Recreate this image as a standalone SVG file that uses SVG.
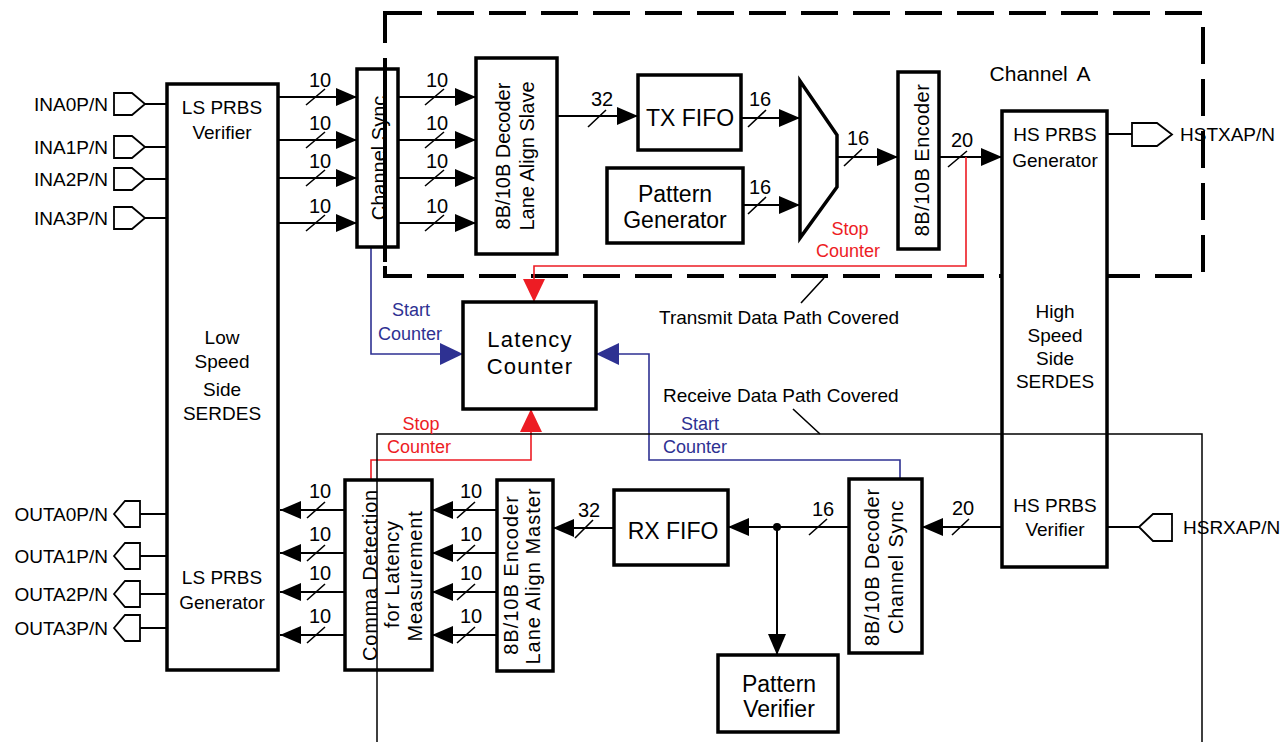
<svg xmlns="http://www.w3.org/2000/svg" width="1286" height="742" viewBox="0 0 1286 742">
<defs>
<style>
.b{fill:#fff;stroke:#000;stroke-width:3.5}
.w{fill:none;stroke:#000;stroke-width:2}
.s{fill:none;stroke:#000;stroke-width:1.6}
.r{fill:none;stroke:#ed1c24;stroke-width:1.6}
.u{fill:none;stroke:#2e3192;stroke-width:1.6}
.p{fill:#fff;stroke:#000;stroke-width:1.8}
.dash{fill:none;stroke:#000;stroke-width:4;stroke-dasharray:37 15}
.thin{fill:none;stroke:#000;stroke-width:1.5}
text{font-family:"Liberation Sans",Arial,sans-serif;fill:#000}
.f18{font-size:18px}
.f19{font-size:19px}
.f20{font-size:20px}
.f21{font-size:21px}
.f22{font-size:22px}
.f23{font-size:23px}
.m{text-anchor:middle}
.e{text-anchor:end}
.red{fill:#ed1c24}
.blu{fill:#2e3192}
</style>
<marker id="ak" markerUnits="userSpaceOnUse" markerWidth="22" markerHeight="20" refX="21" refY="10" orient="auto"><path d="M0,1 L21,10 L0,19 z" fill="#000"/></marker>
<marker id="ar" markerUnits="userSpaceOnUse" markerWidth="24" markerHeight="24" refX="23" refY="12" orient="auto"><path d="M0,1 L23,12 L0,23 z" fill="#ed1c24"/></marker>
<marker id="ab" markerUnits="userSpaceOnUse" markerWidth="24" markerHeight="24" refX="23" refY="12" orient="auto"><path d="M0,1 L23,12 L0,23 z" fill="#2e3192"/></marker>
<path id="pin" class="p" d="M0,-11 H18 L31,0 L18,11 H0 Z"/>
<path id="pout" class="p" d="M0,0 L11,-13 H26 V13 H11 Z"/>
</defs>

<g id="regions">
<rect class="dash" x="385" y="13" width="818" height="263"/>
</g>

<g id="connectors">
<path class="w" marker-end="url(#ak)" d="M278,97 H357"/>
<path class="w" marker-end="url(#ak)" d="M278,140 H357"/>
<path class="w" marker-end="url(#ak)" d="M278,178 H357"/>
<path class="w" marker-end="url(#ak)" d="M278,223 H357"/>
<path class="w" marker-end="url(#ak)" d="M398,97 H476"/>
<path class="w" marker-end="url(#ak)" d="M398,140 H476"/>
<path class="w" marker-end="url(#ak)" d="M398,178 H476"/>
<path class="w" marker-end="url(#ak)" d="M398,223 H476"/>
<path class="w" marker-end="url(#ak)" d="M557,116 H638"/>
<path class="w" marker-end="url(#ak)" d="M741,118 H800"/>
<path class="w" marker-end="url(#ak)" d="M743,205 H800"/>
<path class="w" marker-end="url(#ak)" d="M837,157 H898"/>
<path class="w" marker-end="url(#ak)" d="M939,157 H1002"/>
<path class="w" marker-end="url(#ak)" d="M345,510 H280"/>
<path class="w" marker-end="url(#ak)" d="M345,553 H280"/>
<path class="w" marker-end="url(#ak)" d="M345,592 H280"/>
<path class="w" marker-end="url(#ak)" d="M345,635 H280"/>
<path class="w" marker-end="url(#ak)" d="M497,510 H432"/>
<path class="w" marker-end="url(#ak)" d="M497,553 H432"/>
<path class="w" marker-end="url(#ak)" d="M497,592 H432"/>
<path class="w" marker-end="url(#ak)" d="M497,635 H432"/>
<path class="w" marker-end="url(#ak)" d="M614,528 H553"/>
<path class="w" marker-end="url(#ak)" d="M849,527 H728"/>
<path class="w" marker-end="url(#ak)" d="M777,527 V655"/>
<circle cx="777" cy="527" r="4" fill="#000"/>
<path class="w" marker-end="url(#ak)" d="M1002,527 H922"/>
<path class="w" d="M145,104 H167 M145,147 H167 M145,179 H167 M145,218 H167"/>
<path class="w" d="M140,514 H167 M140,556 H167 M140,594 H167 M140,628 H167"/>
<path class="w" d="M1107,134 H1132 M1107,527 H1139"/>
<path class="s" d="M306,105 L325,89 M306,148 L325,132 M306,186 L325,170 M306,231 L325,215
M425,105 L444,89 M425,148 L444,132 M425,186 L444,170 M425,231 L444,215
M588,127 L606,110 M748,127 L766,110 M748,214 L766,197 M844,166 L862,149 M948,167 L967,151
M307,518 L325,502 M307,561 L325,545 M307,600 L325,584 M307,643 L325,627
M457,518 L475,502 M457,561 L475,545 M457,600 L475,584 M457,643 L475,627
M575,538 L593,520 M809,535 L827,519 M952,535 L969,519"/>
<path class="r" marker-end="url(#ar)" d="M966,157 V266 H534 V302"/>
<path class="u" marker-end="url(#ab)" d="M371,247 V354 H463"/>
<path class="u" marker-end="url(#ab)" d="M900,479 V460 H649 V354 H596"/>
<path class="r" marker-end="url(#ar)" d="M371,480 V460 H531 V409"/>
<path class="s" d="M824,278 L801,303 M793,409 L820,434"/>
</g>

<g id="ports">
<use href="#pin" x="114" y="104"/>
<use href="#pin" x="114" y="147"/>
<use href="#pin" x="114" y="179"/>
<use href="#pin" x="114" y="218"/>
<text class="f19 e" x="108" y="111">INA0P/N</text>
<text class="f19 e" x="108" y="154">INA1P/N</text>
<text class="f19 e" x="108" y="186">INA2P/N</text>
<text class="f19 e" x="108" y="225">INA3P/N</text>
<use href="#pout" x="114" y="514"/>
<use href="#pout" x="114" y="556"/>
<use href="#pout" x="114" y="594"/>
<use href="#pout" x="114" y="628"/>
<text class="f19 e" x="108" y="521">OUTA0P/N</text>
<text class="f19 e" x="108" y="563">OUTA1P/N</text>
<text class="f19 e" x="108" y="601">OUTA2P/N</text>
<text class="f19 e" x="108" y="635">OUTA3P/N</text>
<polygon class="p" points="1132,123 1157,123 1172,134.5 1157,146 1132,146"/>
<text class="f19" x="1180" y="141">HSTXAP/N</text>
<polygon class="p" points="1139,527 1153,514 1172,514 1172,541 1153,541"/>
<text class="f19" x="1183" y="534">HSRXAP/N</text>
</g>

<g id="ls-serdes">
<rect class="b" x="167" y="84" width="111" height="586" stroke-width="4"/>
<text class="f19 m" x="222" y="114">LS PRBS</text>
<text class="f19 m" x="222" y="139">Verifier</text>
<text class="f19 m" x="222" y="344">Low</text>
<text class="f19 m" x="222" y="368">Speed</text>
<text class="f19 m" x="222" y="396">Side</text>
<text class="f19 m" x="222" y="420">SERDES</text>
<text class="f19 m" x="222" y="584">LS PRBS</text>
<text class="f19 m" x="222" y="609">Generator</text>
</g>

<g id="channel-sync">
<rect class="b" x="357" y="69" width="41" height="178"/>
<text class="f20 m" transform="translate(386,158) rotate(-90)">Channel Sync</text>
<path d="M385,64 V262" stroke="#000" stroke-width="4"/>
</g>

<g id="decoder-slave">
<rect class="b" x="476" y="58" width="81" height="196"/>
<text class="f20 m" transform="translate(510,156) rotate(-90)">8B/10B Decoder</text>
<text class="f20 m" transform="translate(534,156) rotate(-90)">Lane Align Slave</text>
</g>

<g id="tx-fifo">
<rect class="b" x="638" y="75" width="103" height="75"/>
<text class="f23 m" x="690" y="126">TX FIFO</text>
</g>

<g id="pattern-generator">
<rect class="b" x="607" y="168" width="136" height="75"/>
<text class="f23 m" x="675" y="202">Pattern</text>
<text class="f23 m" x="675" y="228">Generator</text>
</g>

<g id="mux">
<polygon class="b" stroke-width="4" points="800,81 837,135 837,187 800,238"/>
</g>

<g id="encoder">
<rect class="b" x="898" y="72" width="41" height="177"/>
<text class="f20 m" transform="translate(929,160) rotate(-90)" letter-spacing="0.5">8B/10B Encoder</text>
</g>

<g id="hs-serdes">
<rect class="b" x="1002" y="111" width="105" height="456" stroke-width="4"/>
<text class="f19 m" x="1055" y="141">HS PRBS</text>
<text class="f19 m" x="1055" y="167">Generator</text>
<text class="f19 m" x="1055" y="318">High</text>
<text class="f19 m" x="1055" y="342">Speed</text>
<text class="f19 m" x="1055" y="365">Side</text>
<text class="f19 m" x="1055" y="388">SERDES</text>
<text class="f19 m" x="1055" y="512">HS PRBS</text>
<text class="f19 m" x="1055" y="536">Verifier</text>
</g>

<g id="latency-counter">
<rect class="b" x="463" y="302" width="133" height="107"/>
<text class="f22 m" x="530" y="347" letter-spacing="1.2">Latency</text>
<text class="f22 m" x="530" y="374" letter-spacing="1.2">Counter</text>
</g>

<g id="comma-detection">
<rect class="b" x="345" y="480" width="87" height="190"/>
<text class="f20 m" transform="translate(377,575) rotate(-90)" letter-spacing="0.8">Comma Detection</text>
<text class="f20 m" transform="translate(399,574) rotate(-90)" letter-spacing="0.8">for Latency</text>
<text class="f20 m" transform="translate(422,576) rotate(-90)" letter-spacing="0.8">Measurement</text>
</g>

<g id="encoder-master">
<rect class="b" x="497" y="480" width="56" height="191"/>
<text class="f20 m" transform="translate(518,575) rotate(-90)" letter-spacing="1">8B/10B Encoder</text>
<text class="f20 m" transform="translate(540,576) rotate(-90)" letter-spacing="1">Lane Align Master</text>
</g>

<g id="rx-fifo">
<rect class="b" x="614" y="490" width="114" height="75"/>
<text class="f23 m" x="673" y="539">RX FIFO</text>
</g>

<g id="pattern-verifier">
<rect class="b" x="718" y="655" width="120" height="77"/>
<text class="f23 m" x="779" y="692">Pattern</text>
<text class="f23 m" x="779" y="717">Verifier</text>
</g>

<g id="decoder-channel-sync">
<rect class="b" x="849" y="479" width="73" height="174"/>
<text class="f20 m" transform="translate(879,567) rotate(-90)" letter-spacing="0.8">8B/10B Decoder</text>
<text class="f20 m" transform="translate(903,567) rotate(-90)" letter-spacing="0.8">Channel Sync</text>
</g>

<g id="receive-region">
<path class="thin" d="M377,742 V434 H1202 V742"/>
</g>

<g id="labels">
<text class="f20 m" x="320" y="87">10</text>
<text class="f20 m" x="320" y="130">10</text>
<text class="f20 m" x="320" y="168">10</text>
<text class="f20 m" x="320" y="213">10</text>
<text class="f20 m" x="437" y="87">10</text>
<text class="f20 m" x="437" y="130">10</text>
<text class="f20 m" x="437" y="168">10</text>
<text class="f20 m" x="437" y="213">10</text>
<text class="f20 m" x="602" y="106">32</text>
<text class="f20 m" x="760" y="106">16</text>
<text class="f20 m" x="760" y="194">16</text>
<text class="f20 m" x="858" y="145">16</text>
<text class="f20 m" x="962" y="147">20</text>
<text class="f20 m" x="320" y="498">10</text>
<text class="f20 m" x="320" y="541">10</text>
<text class="f20 m" x="320" y="580">10</text>
<text class="f20 m" x="320" y="623">10</text>
<text class="f20 m" x="471" y="498">10</text>
<text class="f20 m" x="471" y="541">10</text>
<text class="f20 m" x="471" y="580">10</text>
<text class="f20 m" x="471" y="623">10</text>
<text class="f20 m" x="589" y="517">32</text>
<text class="f20 m" x="823" y="516">16</text>
<text class="f20 m" x="963" y="515">20</text>
<text class="f21 m" x="1040" y="81" word-spacing="4">Channel A</text>
<text class="f18 m red" x="850" y="235">Stop</text>
<text class="f18 m red" x="848" y="257">Counter</text>
<text class="f18 m blu" x="411" y="316">Start</text>
<text class="f18 m blu" x="410" y="340">Counter</text>
<text class="f18 m red" x="421" y="430">Stop</text>
<text class="f18 m red" x="419" y="453">Counter</text>
<text class="f18 m blu" x="700" y="430">Start</text>
<text class="f18 m blu" x="695" y="453">Counter</text>
<text class="f19" x="659" y="324">Transmit Data Path Covered</text>
<text class="f19" x="663" y="402">Receive Data Path Covered</text>
</g>
</svg>
